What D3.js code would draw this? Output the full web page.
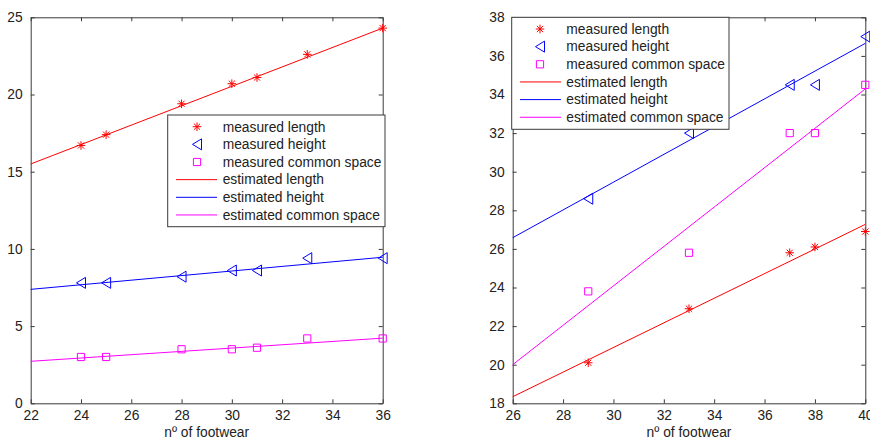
<!DOCTYPE html>
<html>
<head>
<meta charset="utf-8">
<script src="https://cdn.jsdelivr.net/npm/d3@7"></script>
<style>
  body { margin: 0; background: #fff; }
  svg { font-family: "Liberation Sans", Arial, sans-serif; }
  .tick text { font-size: 13.8px; fill: #222; }
</style>
</head>
<body>
<div id="chart"></div>
<script>
var width = 870,
    height = 442;

// left panel
var leftX = [24, 25, 28, 30, 31, 33, 36];
var leftLength = [16.7, 17.4, 19.4, 20.7, 21.1, 22.6, 24.3];
var leftHeight = [7.8, 7.8, 8.2, 8.6, 8.6, 9.4, 9.4];
var leftCommon = [3.0, 3.0, 3.5, 3.5, 3.6, 4.2, 4.2];
// fitted lines, value at the two ends of the x range
var leftFitX = [22, 36];
var leftFitLength = [15.5, 24.3];
var leftFitHeight = [7.38, 9.46];
var leftFitCommon = [2.72, 4.22];
var leftXTicks = [22, 24, 26, 28, 30, 32, 34, 36];
var leftYTicks = [0, 5, 10, 15, 20, 25];

// right panel
var rightX = [29, 33, 37, 38, 40];
var rightLength = [20.1, 22.9, 25.8, 26.1, 26.9];
var rightHeight = [28.6, 32, 34.5, 34.5, 37];
var rightCommon = [23.8, 25.8, 32, 32, 34.5];
var rightFitX = [26, 40];
var rightFitLength = [18.34, 27.27];
var rightFitHeight = [26.58, 36.65];
var rightFitCommon = [20.0, 34.29];
var rightXTicks = [26, 28, 30, 32, 34, 36, 38, 40];
var rightYTicks = [18, 20, 22, 24, 26, 28, 30, 32, 34, 36, 38];

var legendLabels = ["measured length", "measured height", "measured common space",
                    "estimated length", "estimated height", "estimated common space"];
var colors = ["#ff0000", "#0000ff", "#ff00ff"];
var axisColor = "#3a3a3a";

var svg = d3.select("#chart").append("svg")
    .attr("width", width)
    .attr("height", height);

function markerPath(kind) {
  if (kind == "star") {
    var r = 4.3, d = r * 0.72;
    return "M" + (-r) + ",0L" + r + ",0M0," + (-r) + "L0," + r +
           "M" + (-d) + "," + (-d) + "L" + d + "," + d +
           "M" + (-d) + "," + d + "L" + d + "," + (-d);
  }
  if (kind == "tri") {
    return "M-4.5,0L4.5,-5.5L4.5,5.5Z";
  }
  return "M-3.6,-3.6L3.6,-3.6L3.6,3.6L-3.6,3.6Z";
}
var kinds = ["star", "tri", "square"];

function drawPanel(p) {
  var g = svg.append("g");
  var x = d3.scaleLinear().domain(p.xDomain).range([p.left, p.right]);
  var y = d3.scaleLinear().domain(p.yDomain).range([p.bottom, p.top]);

  // axes on all four sides, ticks pointing in
  var ax = [
    d3.axisBottom(x).tickValues(p.xTicks).tickSizeInner(-4).tickSizeOuter(0).tickPadding(7),
    d3.axisTop(x).tickValues(p.xTicks).tickSizeInner(-4).tickSizeOuter(0).tickFormat(""),
    d3.axisLeft(y).tickValues(p.yTicks).tickSizeInner(-4).tickSizeOuter(0).tickPadding(8),
    d3.axisRight(y).tickValues(p.yTicks).tickSizeInner(-4).tickSizeOuter(0).tickFormat("")
  ];
  var pos = ["translate(0," + p.bottom + ")", "translate(0," + p.top + ")",
             "translate(" + p.left + ",0)", "translate(" + p.right + ",0)"];
  ax.forEach(function(a, i) {
    var ag = g.append("g").attr("transform", pos[i]).call(a);
    ag.selectAll("path, line").attr("stroke", axisColor);
    ag.selectAll("text").attr("font-family", null).attr("font-size", null);
  });

  g.append("text")
    .attr("x", (p.left + p.right) / 2)
    .attr("y", p.bottom + 34)
    .attr("text-anchor", "middle")
    .attr("font-size", "13.8px")
    .attr("fill", "#222")
    .text("nº of footwear");

  var line = d3.line().x(function(d) { return x(d[0]); }).y(function(d) { return y(d[1]); });

  p.fits.forEach(function(f, i) {
    g.append("path")
      .datum(p.fitX.map(function(v, j) { return [v, f[j]]; }))
      .attr("d", line)
      .attr("fill", "none")
      .attr("stroke", colors[i])
      .attr("stroke-width", 1);
  });

  p.series.forEach(function(s, i) {
    g.append("g").selectAll("path")
      .data(p.xs.map(function(v, j) { return [v, s[j]]; }))
      .enter().append("path")
      .attr("transform", function(d) { return "translate(" + x(d[0]) + "," + y(d[1]) + ")"; })
      .attr("d", markerPath(kinds[i]))
      .attr("fill", "none")
      .attr("stroke", colors[i])
      .attr("stroke-width", 1);
  });

  // legend
  var L = p.legend;
  var lg = g.append("g");
  lg.append("rect")
    .attr("x", L.x0).attr("y", L.y0)
    .attr("width", L.x1 - L.x0).attr("height", L.y1 - L.y0)
    .attr("fill", "#fff").attr("stroke", axisColor).attr("stroke-width", 1);
  legendLabels.forEach(function(t, i) {
    var ry = L.y0 + 11.7 + i * 17.65;
    if (i < 3) {
      lg.append("path")
        .attr("transform", "translate(" + L.mark + "," + ry + ")")
        .attr("d", markerPath(kinds[i]))
        .attr("fill", "none").attr("stroke", colors[i]);
    } else {
      lg.append("line")
        .attr("x1", L.l0).attr("x2", L.l1).attr("y1", ry).attr("y2", ry)
        .attr("stroke", colors[i - 3]);
    }
    lg.append("text")
      .attr("x", L.text).attr("y", ry)
      .attr("dy", "0.35em")
      .attr("font-size", "13.8px")
      .attr("fill", "#222")
      .text(t);
  });
}

drawPanel({
  left: 30.7, right: 382.7, top: 17.3, bottom: 403.3,
  xDomain: [22, 36], yDomain: [0, 25],
  xTicks: leftXTicks, yTicks: leftYTicks,
  xs: leftX, series: [leftLength, leftHeight, leftCommon],
  fitX: leftFitX, fits: [leftFitLength, leftFitHeight, leftFitCommon],
  legend: { x0: 167.7, x1: 385, y0: 115, y1: 226.7, mark: 197, l0: 176, l1: 217, text: 222.7 }
});

drawPanel({
  left: 512.7, right: 865.3, top: 17.3, bottom: 403.3,
  xDomain: [26, 40], yDomain: [18, 38],
  xTicks: rightXTicks, yTicks: rightYTicks,
  xs: rightX, series: [rightLength, rightHeight, rightCommon],
  fitX: rightFitX, fits: [rightFitLength, rightFitHeight, rightFitCommon],
  legend: { x0: 511.7, x1: 729, y0: 17.3, y1: 129.3, mark: 540, l0: 520, l1: 561, text: 566.3 }
});
</script>
</body>
</html>
